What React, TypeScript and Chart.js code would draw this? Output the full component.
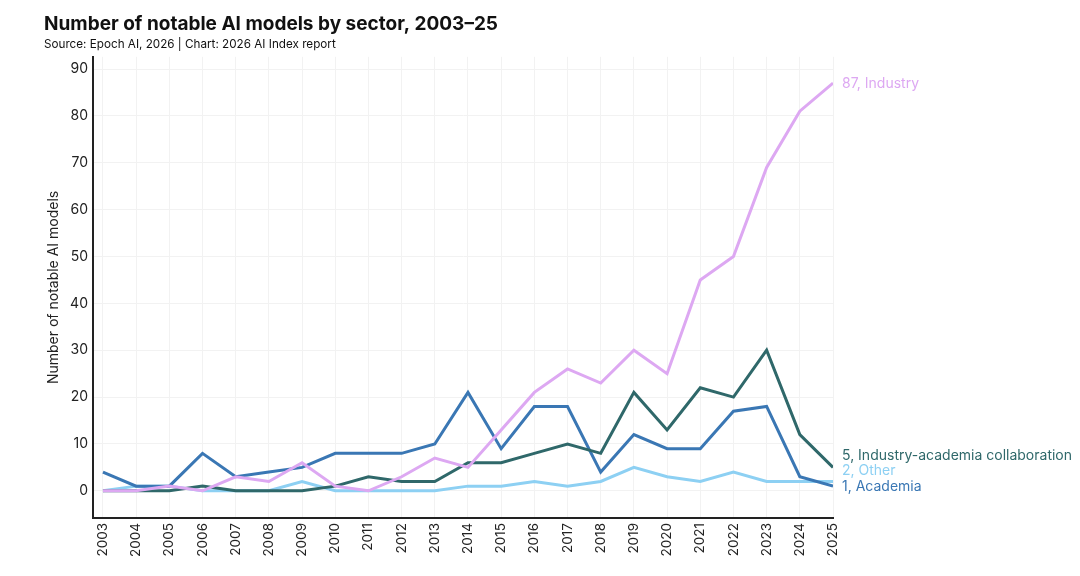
import { useEffect, useRef } from 'react';
import { Chart, registerables } from 'chart.js';

Chart.register(...registerables);

const years = [2003, 2004, 2005, 2006, 2007, 2008, 2009, 2010, 2011, 2012, 2013, 2014, 2015, 2016, 2017, 2018, 2019, 2020, 2021, 2022, 2023, 2024, 2025];
const industry = [0, 0, 1, 0, 3, 2, 6, 1, 0, 3, 7, 5, 13, 21, 26, 23, 30, 25, 45, 50, 69, 81, 87];
const collaboration = [0, 0, 0, 1, 0, 0, 0, 1, 3, 2, 2, 6, 6, 8, 10, 8, 21, 13, 22, 20, 30, 12, 5];
const other = [0, 1, 1, 0, 0, 0, 2, 0, 0, 0, 0, 1, 1, 2, 1, 2, 5, 3, 2, 4, 2, 2, 2];
const academia = [4, 1, 1, 8, 3, 4, 5, 8, 8, 8, 10, 21, 9, 18, 18, 4, 12, 9, 9, 17, 18, 3, 1];
const seriesNames = ['Industry', 'Industry-academia collaboration', 'Other', 'Academia'];
const seriesColors = ['#DDA8F2', '#2F686A', '#8DD0F3', '#3A77B4'];

const FONT = 'Inter, "Noto Sans", sans-serif';

const endLabels = {
  id: 'endLabels',
  afterDatasetsDraw(chart: any) {
    const { ctx, chartArea, scales } = chart;
    const items: { y: number; text: string; color: string }[] = [];
    chart.data.datasets.forEach((ds: any) => {
      const last = ds.data[ds.data.length - 1];
      items.push({ y: scales.y.getPixelForValue(last.y), text: `${last.y}, ${ds.label}`, color: ds.borderColor });
    });
    items.sort((a, b) => b.y - a.y);
    const gap = 15.5;
    for (let i = 1; i < items.length; i++) {
      if (items[i].y > items[i - 1].y - gap) items[i].y = items[i - 1].y - gap;
    }
    ctx.save();
    ctx.font = `14px ${FONT}`;
    ctx.textAlign = 'left';
    ctx.textBaseline = 'middle';
    items.forEach((it) => {
      ctx.fillStyle = it.color;
      ctx.fillText(it.text, chartArea.right + 9, it.y + 0.5);
    });
    ctx.restore();
  },
};

export default function App() {
  const ref = useRef<HTMLCanvasElement>(null);
  useEffect(() => {
    if (!ref.current) return;
    const sets = [industry, collaboration, other, academia];
    const orders = [0, 1, 3, 2];
    const chart = new Chart(ref.current, {
      type: 'line',
      data: {
        datasets: sets.map((vals, i) => ({
          label: seriesNames[i],
          data: years.map((yr, j) => ({ x: yr, y: vals[j] })),
          borderColor: seriesColors[i],
          backgroundColor: seriesColors[i],
          borderWidth: 3,
          pointRadius: 0,
          tension: 0,
          order: orders[i],
        })),
      },
      options: {
        responsive: false,
        animation: false,
        devicePixelRatio: 1,
        layout: { padding: { left: 44, right: 247, top: 0, bottom: 0 } },
        plugins: {
          legend: { display: false },
          tooltip: { enabled: false },
          title: {
            display: true,
            text: 'Number of notable AI models by sector, 2003–25',
            align: 'start',
            color: '#111',
            font: { family: FONT, size: 19, weight: 'bold' },
            padding: { top: 13, bottom: 2 },
          },
          subtitle: {
            display: true,
            text: 'Source: Epoch AI, 2026 | Chart: 2026 AI Index report',
            align: 'start',
            color: '#111',
            font: { family: FONT, size: 11.7 },
            padding: { top: 0, bottom: 5 },
          },
        },
        scales: {
          x: {
            type: 'linear',
            min: 2002.7,
            max: 2025,
            afterBuildTicks: (scale: any) => {
              scale.ticks = years.map((v) => ({ value: v }));
            },
            afterFit: (scale: any) => {
              scale.height = 58;
            },
            ticks: {
              minRotation: 90,
              maxRotation: 90,
              autoSkip: false,
              padding: 5,
              color: '#222',
              font: { family: FONT, size: 13.5 },
              callback: (v: any) => String(v),
            },
            grid: { color: '#f2f2f2', lineWidth: 1, drawTicks: false },
            border: { display: true, color: '#222', width: 2 },
          },
          y: {
            type: 'linear',
            min: -5.8,
            max: 92.6,
            afterBuildTicks: (scale: any) => {
              const t = [];
              for (let v = 0; v <= 90; v += 10) t.push({ value: v });
              scale.ticks = t;
            },
            afterFit: (scale: any) => {
              scale.width = 49;
            },
            ticks: {
              padding: 5,
              color: '#222',
              font: { family: FONT, size: 14 },
              callback: (v: any) => String(v),
            },
            title: {
              display: true,
              text: 'Number of notable AI models',
              color: '#222',
              font: { family: FONT, size: 14 },
              padding: { top: 1, bottom: 0 },
            },
            grid: { color: '#f2f2f2', lineWidth: 1, drawTicks: false },
            border: { display: true, color: '#222', width: 2 },
          },
        },
      },
      plugins: [endLabels],
    } as any);
    return () => chart.destroy();
  }, []);
  return (
    <div style={{ position: 'absolute', left: 0, top: 0, width: 1080, height: 576, background: '#fff' }}>
      <canvas ref={ref} width={1080} height={576} />
    </div>
  );
}
